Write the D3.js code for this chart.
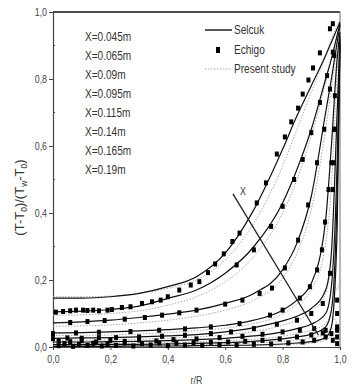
<!DOCTYPE html>
<html><head><meta charset="utf-8">
<script src="https://cdn.jsdelivr.net/npm/d3@7"></script>
<style>
body{margin:0;background:#fff;}
text{font-family:"Liberation Sans Narrow","Arial Narrow","Liberation Sans",Arial,sans-serif;fill:#222;}
</style></head>
<body><svg id="c" width="354" height="391"></svg>
<script>
// ---- data ----
const profiles = ["X=0.045m","X=0.065m","X=0.09m","X=0.095m","X=0.115m","X=0.14m","X=0.165m","X=0.19m"];
const rGrid = [0,0.1,0.2,0.3,0.4,0.5,0.6,0.7,0.8,0.85,0.9,0.95,0.97,0.99,1.0];
const selcuk = [
  [0.002,0.002,0.002,0.003,0.003,0.004,0.005,0.006,0.009,0.012,0.016,0.028,0.06,0.35,0.90],
  [0.007,0.007,0.008,0.008,0.009,0.011,0.013,0.017,0.024,0.030,0.038,0.06,0.11,0.45,0.91],
  [0.015,0.015,0.016,0.017,0.019,0.022,0.026,0.033,0.045,0.055,0.068,0.10,0.18,0.55,0.92],
  [0.026,0.027,0.028,0.030,0.033,0.037,0.045,0.058,0.078,0.092,0.115,0.17,0.28,0.70,0.93],
  [0.042,0.043,0.045,0.048,0.052,0.057,0.065,0.080,0.110,0.140,0.19,0.38,0.60,0.86,0.94],
  [0.072,0.075,0.080,0.088,0.098,0.110,0.130,0.160,0.230,0.310,0.45,0.70,0.80,0.91,0.96],
  [0.105,0.107,0.112,0.122,0.145,0.170,0.220,0.300,0.430,0.530,0.65,0.80,0.86,0.93,0.965],
  [0.146,0.146,0.150,0.160,0.180,0.210,0.280,0.410,0.590,0.690,0.78,0.87,0.91,0.95,0.97]
];
const present = [
  [0.001,0.001,0.001,0.002,0.002,0.003,0.004,0.005,0.007,0.009,0.012,0.02,0.03,0.025,0.02],
  [0.004,0.004,0.004,0.005,0.006,0.007,0.009,0.012,0.017,0.021,0.027,0.04,0.055,0.045,0.04],
  [0.010,0.010,0.011,0.012,0.013,0.015,0.018,0.023,0.032,0.040,0.050,0.07,0.09,0.07,0.05],
  [0.020,0.020,0.021,0.023,0.026,0.030,0.036,0.046,0.065,0.080,0.105,0.16,0.22,0.17,0.20],
  [0.034,0.035,0.036,0.039,0.043,0.049,0.056,0.070,0.098,0.128,0.17,0.31,0.48,0.82,0.94],
  [0.062,0.063,0.066,0.072,0.080,0.092,0.110,0.140,0.205,0.280,0.41,0.65,0.77,0.90,0.96],
  [0.095,0.096,0.100,0.108,0.125,0.150,0.195,0.270,0.400,0.500,0.63,0.79,0.86,0.93,0.97],
  [0.150,0.150,0.152,0.160,0.175,0.200,0.260,0.370,0.540,0.650,0.76,0.87,0.92,0.96,0.98]
];
const echigoR = [
  [0.02,0.07,0.12,0.17,0.22,0.28,0.34,0.40,0.46,0.52,0.58,0.64,0.70,0.76,0.82,0.87,0.91,0.95,0.975,0.99],
  [0.04,0.09,0.14,0.19,0.25,0.31,0.37,0.43,0.49,0.55,0.61,0.67,0.73,0.79,0.85,0.90,0.94,0.97,0.99,0.99],
  [0.02,0.06,0.10,0.15,0.20,0.25,0.30,0.36,0.42,0.50,0.58,0.66,0.73,0.80,0.86,0.91,0.95,0.99,0.99,0.99],
  [0.00,0.05,0.10,0.16,0.22,0.30,0.38,0.46,0.55,0.62,0.70,0.78,0.85,0.90,0.94,0.965,0.975,0.978,0.98,0.982],
  [0.00,0.08,0.16,0.27,0.37,0.46,0.55,0.65,0.756,0.80,0.86,0.895,0.92,0.937,0.948,0.96,0.97,0.98],
  [0.06,0.12,0.18,0.25,0.32,0.38,0.44,0.50,0.60,0.66,0.72,0.763,0.808,0.854,0.889,0.92,0.945,0.965,0.98],
  [0.01,0.035,0.06,0.08,0.105,0.12,0.14,0.16,0.19,0.205,0.24,0.27,0.31,0.345,0.375,0.40,0.64,0.70,0.76,0.80,0.84,0.87,0.90,0.93,0.955,0.975],
  [0.44,0.48,0.51,0.54,0.565,0.595,0.625,0.65,0.71,0.742,0.78,0.808,0.83,0.854,0.87,0.89,0.906,0.93,0.965,0.975]
];
const echigoV = [
  [0.004,0.002,0.005,0.003,0.005,0.003,0.006,0.004,0.006,0.005,0.007,0.006,0.008,0.009,0.012,0.015,0.02,0.03,0.02,0.01],
  [0.010,0.008,0.011,0.009,0.012,0.010,0.012,0.011,0.013,0.014,0.015,0.017,0.02,0.024,0.03,0.036,0.042,0.04,0.03,0.05],
  [0.018,0.016,0.019,0.015,0.020,0.017,0.021,0.018,0.022,0.024,0.028,0.032,0.038,0.045,0.05,0.055,0.05,0.06,0.10,0.14],
  [0.025,0.027,0.026,0.028,0.028,0.030,0.032,0.035,0.040,0.045,0.055,0.068,0.080,0.10,0.13,0.22,0.47,0.55,0.65,0.75],
  [0.040,0.042,0.044,0.046,0.050,0.054,0.060,0.070,0.095,0.110,0.146,0.18,0.23,0.29,0.373,0.47,0.55,0.65],
  [0.073,0.076,0.079,0.083,0.088,0.095,0.102,0.110,0.128,0.140,0.160,0.176,0.236,0.319,0.424,0.55,0.65,0.77,0.87],
  [0.104,0.106,0.108,0.110,0.110,0.109,0.110,0.108,0.110,0.112,0.118,0.120,0.130,0.135,0.140,0.150,0.245,0.29,0.36,0.42,0.50,0.56,0.64,0.73,0.81,0.88],
  [0.17,0.185,0.195,0.222,0.248,0.278,0.315,0.34,0.43,0.49,0.576,0.627,0.672,0.713,0.755,0.797,0.833,0.878,0.95,0.965]
];
const xTicks = [0,0.2,0.4,0.6,0.8,1.0];
const yTicks = [0,0.2,0.4,0.6,0.8,1.0];
const arrowLine = [[0.627,0.457],[0.925,0.035]];
const legendItems = ["Selcuk","Echigo","Present study"];

// ---- drawing ----
const svg = d3.select("#c");
const x = d3.scaleLinear().domain([0,1]).range([53,340]);
const y = d3.scaleLinear().domain([0,1]).range([347,12]);
const fmt = d => d3.format(".1f")(d).replace(".", ",");

svg.append("line").attr("x1",x(0)).attr("x2",x(1)).attr("y1",y(1)).attr("y2",y(1)).attr("stroke","#111").attr("stroke-width",1.6);
svg.append("line").attr("x1",x(1)).attr("x2",x(1)).attr("y1",y(1)).attr("y2",y(0)).attr("stroke","#888").attr("stroke-width",1.2);

const yAxis = d3.axisLeft(y).tickValues(yTicks).tickFormat(fmt).tickSize(4).tickPadding(2);
const gy = svg.append("g").attr("transform",`translate(${x(0)},0)`).call(yAxis);
const xAxis = d3.axisBottom(x).tickValues(xTicks).tickFormat(fmt).tickSize(3).tickPadding(6);
const gx = svg.append("g").attr("transform",`translate(0,${y(0)})`).call(xAxis);
[gy,gx].forEach(g=>{
  g.select(".domain").attr("stroke","#444").attr("stroke-width",1.2);
  g.selectAll(".tick line").attr("stroke","#444");
  g.selectAll("text").attr("font-size",10.5).style("fill","#444");
});
svg.append("g").selectAll("line").data([0.1,0.3,0.5,0.7,0.9]).join("line")
  .attr("x1",x(0)).attr("x2",x(0)+2).attr("y1",d=>y(d)).attr("y2",d=>y(d)).attr("stroke","#444");

const yt = svg.append("text").attr("transform",`translate(24,${(y(0)+y(1))/2+18}) rotate(-90)`)
  .attr("text-anchor","middle").attr("font-size",13).style("fill","#333");
yt.append("tspan").text("(T-T");
yt.append("tspan").attr("font-size",8.5).attr("dy",3).text("0");
yt.append("tspan").attr("dy",-3).text(")/(T");
yt.append("tspan").attr("font-size",8.5).attr("dy",3).text("w");
yt.append("tspan").attr("dy",-3).text("-T");
yt.append("tspan").attr("font-size",8.5).attr("dy",3).text("0");
yt.append("tspan").attr("dy",-3).text(")");
svg.append("text").attr("x",(x(0)+x(1))/2).attr("y",384).attr("text-anchor","middle")
  .attr("font-size",10.5).style("fill","#444").text("r/R");

const plotG = svg.append("g");
const line = d3.line().x(d=>x(d[0])).y(d=>y(d[1])).curve(d3.curveMonotoneX);
present.forEach(vals=>{
  plotG.append("path").datum(rGrid.map((r,i)=>[r,vals[i]])).attr("d",line)
    .attr("fill","none").attr("stroke","#aaa").attr("stroke-width",1).attr("stroke-dasharray","1.5,1.5");
});
selcuk.forEach(vals=>{
  plotG.append("path").datum(rGrid.map((r,i)=>[r,vals[i]])).attr("d",line)
    .attr("fill","none").attr("stroke","#111").attr("stroke-width",1.2);
});
echigoR.forEach((rs,k)=>{
  plotG.append("g").selectAll("rect").data(rs.map((r,i)=>[r,echigoV[k][i]])).join("rect")
    .attr("x",d=>x(d[0])-2).attr("y",d=>y(d[1])-2.5).attr("width",4).attr("height",5).attr("fill","#000");
});

svg.append("line").attr("x1",x(arrowLine[0][0])).attr("y1",y(arrowLine[0][1]))
  .attr("x2",x(arrowLine[1][0])).attr("y2",y(arrowLine[1][1])).attr("stroke","#222").attr("stroke-width",1.3);
svg.append("text").attr("x",x(arrowLine[0][0])+7).attr("y",y(arrowLine[0][1])+1)
  .attr("font-size",10.5).style("fill","#333").text("X");

svg.append("g").selectAll("text").data(profiles).join("text").attr("class","cond")
  .attr("x",85).attr("y",(d,i)=>41+i*19).attr("font-size",12).style("fill","#333").text(d=>d);

const lg = svg.append("g");
lg.append("line").attr("x1",205).attr("x2",232).attr("y1",30).attr("y2",30).attr("stroke","#111").attr("stroke-width",1.4);
lg.append("rect").attr("x",216).attr("y",47).attr("width",4).attr("height",6).attr("fill","#000");
lg.append("line").attr("x1",205).attr("x2",232).attr("y1",69).attr("y2",69).attr("stroke","#aaa").attr("stroke-dasharray","1.5,1.5");
lg.selectAll("text").data(legendItems).join("text").attr("class","cond")
  .attr("x",234).attr("y",(d,i)=>34+i*19.5).attr("font-size",12).style("fill","#333").text(d=>d);

// condense text horizontally to mimic a narrow face
svg.selectAll("text").each(function(){
  if (this.querySelector("tspan")) return;
  const w = this.getComputedTextLength();
  d3.select(this).attr("textLength", w*0.84).attr("lengthAdjust","spacingAndGlyphs");
});
</script></body></html>
